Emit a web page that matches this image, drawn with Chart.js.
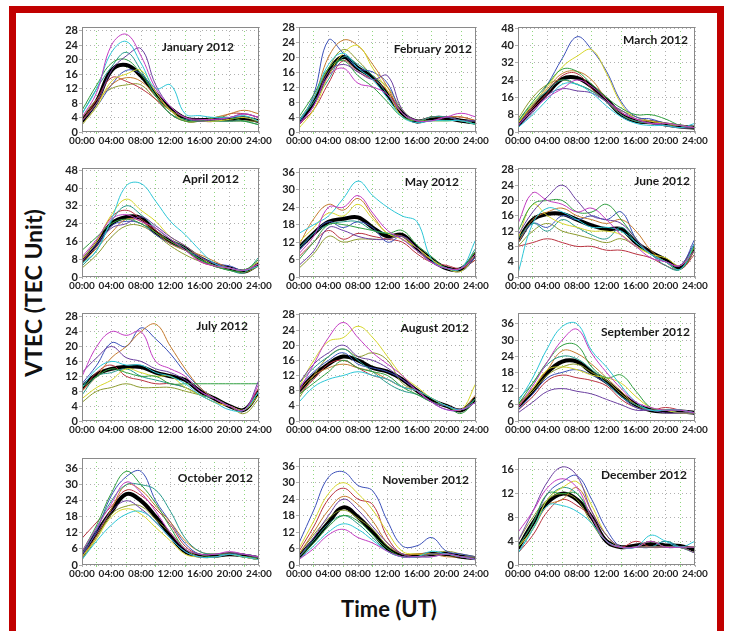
<!DOCTYPE html>
<html>
<head>
<meta charset="utf-8">
<script src="https://cdn.jsdelivr.net/npm/chart.js@4.4.1/dist/chart.umd.min.js"></script>
<style>
  html, body { margin: 0; padding: 0; background: #fff; }
  body { width: 731px; height: 631px; overflow: hidden; position: relative; font-family: Lato, "DejaVu Sans", sans-serif; }
  #frame { position: absolute; left: 9px; top: 6px; width: 701px; height: 700px; border: 7px solid #c10000; }
  canvas { position: absolute; }
  #ylab { position: absolute; left: 33px; top: 293px; transform: translate(-50%, -50%) rotate(-90deg); font: bold 23px Lato, sans-serif; color: #111; white-space: nowrap; }
  #xlab { position: absolute; left: 389px; top: 608px; transform: translate(-50%, -50%); font: bold 22px Lato, sans-serif; color: #111; white-space: nowrap; }
</style>
</head>
<body>
<div id="frame"></div>
<div id="ylab">VTEC (TEC Unit)</div>
<div id="xlab">Time (UT)</div>
<script>
// hours of the day (UT)
const hours = [0, 2, 4, 6, 8, 10, 12, 14, 16, 18, 20, 22, 24];

const months = ['January 2012', 'February 2012', 'March 2012', 'April 2012', 'May 2012', 'June 2012',
  'July 2012', 'August 2012', 'September 2012', 'October 2012', 'November 2012', 'December 2012'];

const yMax = [29, 28, 48.5, 49, 37.5, 28.5, 29, 28.5, 40, 40, 39, 18];
const yStep = [4, 4, 8, 8, 6, 4, 4, 4, 6, 6, 6, 4];

// monthly mean curves (thick black)
const janMean = [3, 8.5, 17, 18.5, 15.5, 10.5, 6.5, 3.8, 3.3, 3.5, 3.5, 3.8, 3];
const febMean = [2.5, 8, 16, 20, 17, 14.5, 10, 5, 2.8, 3.7, 3.7, 3, 2.5];
const marMean = [3, 11, 18, 24.5, 25, 21, 15, 8, 5, 4.5, 3.5, 2.5, 2];
const aprMean = [7, 15, 24, 27, 26.5, 20, 16, 13, 8.5, 5.5, 4, 2.5, 6];
const mayMean = [10, 15, 19, 20, 20.5, 17, 14, 14.5, 10, 6, 3, 2.8, 8];
const junMean = [9.5, 15, 16.5, 16.5, 15, 13.5, 12.5, 12.5, 9, 6.5, 4.5, 2.5, 8];
const julMean = [9, 12.5, 14, 14.5, 14.5, 13, 12, 11, 8, 6, 4, 3, 8];
const augMean = [8, 12, 15, 17, 16, 14, 13, 11, 8, 5.5, 4, 2.8, 6];
const sepMean = [5.5, 11, 18, 22, 22, 18, 14.5, 10, 6, 4, 3.5, 3.5, 3];
const octMean = [3.5, 12, 20, 26.5, 24, 18, 11, 5, 3.5, 3.5, 4, 3.5, 2.5];
const novMean = [3, 9, 15.5, 21, 17.5, 12, 6, 3.5, 3.5, 4, 4, 3, 2.5];
const decMean = [2.8, 7, 10.5, 12, 11, 8, 4, 3, 3.3, 3.5, 3.3, 3.2, 2.5];

// daily curves (thin coloured), same colour order in every month
const janDays = [
  [4, 11, 24, 27, 21, 12, 7, 4, 3.5, 3.5, 4, 5, 4],
  [5, 12, 22, 25, 19, 12, 13, 5, 4.5, 4, 4, 4.5, 3],
  [3, 8, 17, 21, 23, 13, 7, 4, 3, 3.5, 4, 5, 4],
  [6, 13, 19, 20, 16, 10, 5, 3, 3, 4, 4, 3, 2],
  [2, 7, 14, 16, 17, 11, 6, 3, 3, 3, 3.5, 4, 3],
  [5, 12, 18, 22, 17, 10, 5, 3.5, 3, 3, 3, 3, 2],
  [3, 8, 13, 15, 14, 10, 6, 3, 3, 4, 5, 6, 5],
  [2, 7, 13, 17, 16, 11, 6, 3, 3, 3, 4, 4, 3],
  [3, 9, 15, 14, 12, 9, 5, 3, 3, 3, 5, 5, 4],
  [4, 9, 12, 13, 13, 9, 6, 4, 3, 3, 3, 3, 3]
];
const febDays = [
  [2, 7, 15, 17, 13, 12, 10, 5, 3, 3, 4, 5, 4],
  [3, 9, 18, 21, 17, 14, 9, 4, 2.5, 3, 3, 3, 2],
  [2, 7, 16, 18, 16, 14, 15, 6, 3, 3, 4, 3, 3],
  [4, 10, 17, 19, 15, 12, 8, 4, 3, 3, 3, 3, 2],
  [1, 6, 15, 21, 23, 17, 11, 4, 3, 3, 3, 3, 2],
  [3, 8, 14, 20, 18, 15, 10, 5, 3, 4, 4, 3, 2],
  [3, 9, 20, 24.5, 23, 18, 12, 5, 3, 4, 4, 4, 3],
  [2, 10, 24.5, 21, 17, 16, 13, 5, 3, 4, 4, 3, 3],
  [2, 6, 13, 19, 16, 14, 11, 5, 3, 4, 4, 4, 3],
  [3, 9, 17, 22, 19, 15, 12, 6, 3, 4, 4, 3, 3]
];
const marDays = [
  [3, 10, 16, 20, 24, 21, 15, 9, 6, 4, 4, 3, 2],
  [2, 8, 15, 22, 22, 18, 12, 7, 4, 3, 3, 2, 4],
  [2, 9, 17, 20, 19, 18, 14, 10, 6, 4, 3, 2, 2],
  [5, 14, 22, 29, 28, 22, 16, 11, 8, 8, 6, 3, 2],
  [4, 13, 21, 30, 35, 38, 27, 13, 6, 5, 4, 3, 2],
  [5, 13, 19, 24, 22, 19, 14, 8, 5, 4, 3, 2, 2],
  [4, 12, 20, 27, 28, 24, 15, 8, 5, 4, 3, 2, 2],
  [3, 12, 22, 34, 44, 38, 28, 14, 7, 6, 4, 3, 2],
  [3, 11, 18, 26, 27, 20, 14, 9, 6, 5, 4, 3, 2],
  [6, 16, 22, 24, 22, 19, 14, 10, 7, 5, 3, 3, 2]
];
const aprDays = [
  [9, 17, 26, 28, 25, 22, 17, 12, 7, 5, 4, 3, 6],
  [6, 12, 26, 41, 42, 34, 25, 19, 12, 6, 4, 3, 5],
  [7, 14, 22, 24, 27, 23, 18, 14, 9, 6, 4, 3, 6],
  [12, 18, 24, 26, 24, 20, 16, 12, 8, 5, 3, 3, 8],
  [8, 16, 28, 35, 30, 25, 18, 14, 9, 5, 4, 3, 7],
  [5, 12, 25, 32, 28, 22, 17, 13, 8, 5, 3, 2, 9],
  [6, 13, 20, 26, 25, 20, 15, 12, 10, 7, 4, 3, 5],
  [8, 15, 23, 25, 24, 19, 15, 12, 9, 6, 5, 3, 7],
  [7, 16, 27, 30, 26, 21, 16, 13, 7, 5, 4, 3, 6],
  [4, 10, 18, 23, 23, 19, 14, 10, 7, 5, 3, 2, 5]
];
const mayDays = [
  [8, 14, 24, 24, 28, 22, 16, 13, 9, 5, 3, 3, 8],
  [15, 18, 21, 27, 33, 28, 24, 21, 19, 6, 3, 3, 13],
  [4, 9, 17, 16, 14, 13, 13, 14, 10, 5, 3, 3, 7],
  [6, 12, 18, 18, 17, 16, 15, 16, 11, 7, 3, 3, 9],
  [12, 17, 22, 21, 25, 20, 15, 13, 10, 6, 3, 2, 8],
  [10, 15, 18, 19, 19, 16, 15, 13, 9, 5, 3, 3, 10],
  [11, 20, 25, 23, 27, 21, 15, 14, 10, 6, 3, 3, 9],
  [9, 15, 19, 17, 19, 17, 12, 14, 10, 6, 3, 2, 7],
  [7, 12, 16, 13, 15, 14, 13, 12, 8, 5, 4, 3, 6],
  [3, 8, 14, 12, 13, 13, 13, 14, 9, 6, 3, 3, 6]
];
const junDays = [
  [14, 22, 20, 19, 17, 18, 15, 11, 8, 5, 4, 3, 7],
  [1, 14, 18, 17, 15, 13, 13, 12, 9, 6, 4, 2, 9],
  [11, 17, 21, 24, 20, 16, 15, 14, 10, 6, 4, 3, 9],
  [12, 19, 20, 20, 17, 17, 19, 15, 10, 6, 4, 2, 8],
  [10, 19, 16, 14, 13, 12, 12, 11, 8, 6, 5, 3, 8],
  [10, 14, 12, 15, 13, 11, 10, 13, 9, 6, 3, 2, 9],
  [9, 15, 17, 18, 16, 15, 14, 15, 12, 7, 4, 3, 8],
  [9, 14, 13, 16, 15, 16, 15, 17, 10, 6, 4, 3, 10],
  [8, 9, 10, 9, 8, 8, 7, 7, 6, 5, 3, 2, 6],
  [8, 12, 14, 12, 11, 10, 9, 10, 8, 6, 4, 2, 7]
];
const julDays = [
  [12, 20, 24, 23, 24, 16, 14, 12, 8, 6, 4, 3, 10],
  [9, 14, 16, 15, 15, 13, 12, 10, 7, 5, 3, 3, 8],
  [13, 17, 20, 17, 16, 14, 13, 11, 8, 6, 4, 3, 11],
  [9, 12, 14, 13, 12, 12, 10, 10, 10, 10, 10, 10, 10],
  [6, 9, 11, 14, 13, 12, 12, 9, 7, 5, 4, 3, 7],
  [7, 12, 13, 14, 12, 11, 10, 9, 7, 6, 4, 3, 8],
  [8, 12, 17, 20, 24, 26, 20, 14, 9, 6, 4, 3, 8],
  [10, 15, 21, 20, 25, 22, 18, 13, 9, 6, 4, 3, 8],
  [8, 13, 15, 12, 11, 10, 10, 9, 7, 5, 4, 3, 9],
  [5, 8, 9, 10, 9, 9, 9, 8, 7, 6, 4, 2, 6]
];
const augDays = [
  [8, 15, 22, 26, 22, 18, 15, 12, 8, 5, 3, 3, 5],
  [5, 9, 11, 12, 13, 12, 11, 9, 8, 6, 4, 3, 5],
  [10, 15, 18, 20, 17, 16, 14, 11, 8, 5, 4, 3, 5],
  [7, 10, 13, 16, 14, 13, 12, 9, 7, 5, 4, 2, 6],
  [9, 16, 21, 22, 25, 22, 17, 12, 9, 6, 4, 3, 10],
  [10, 14, 17, 19, 16, 13, 10, 8, 7, 5, 4, 3, 6],
  [8, 12, 14, 15, 14, 13, 11, 9, 8, 6, 4, 3, 7],
  [9, 13, 16, 18, 15, 14, 13, 11, 8, 5, 3, 3, 6],
  [7, 11, 15, 16, 14, 12, 11, 9, 8, 5, 4, 3, 5],
  [6, 12, 17, 19, 17, 18, 16, 10, 8, 5, 4, 3, 6]
];
const sepDays = [
  [5, 13, 22, 30, 34, 25, 18, 12, 7, 5, 4, 4, 3],
  [7, 16, 27, 35, 36, 26, 20, 13, 7, 4, 4, 4, 3],
  [3, 7, 11, 12, 11, 10, 8, 6, 4, 4, 3, 3, 3],
  [6, 14, 22, 28, 28, 20, 16, 17, 11, 5, 4, 4, 3],
  [6, 12, 19, 20, 19, 17, 16, 14, 9, 5, 4, 3, 3],
  [8, 14, 21, 24, 23, 19, 14, 9, 6, 4, 4, 3, 3],
  [5, 12, 19, 26, 25, 21, 16, 11, 6, 4, 4, 3, 3],
  [4, 10, 16, 18, 19, 17, 14, 9, 5, 4, 4, 4, 3],
  [4, 9, 15, 17, 16, 15, 13, 8, 5, 4, 5, 4, 3],
  [6, 11, 17, 20, 21, 18, 15, 10, 6, 4, 4, 4, 3]
];
const octDays = [
  [5, 14, 23, 31, 27, 20, 12, 6, 4, 4, 5, 4, 3],
  [2, 9, 15, 19, 20, 16, 10, 5, 3, 3, 4, 3, 2],
  [4, 12, 20, 24, 21, 16, 10, 5, 3, 3, 4, 4, 3],
  [5, 15, 27, 35, 30, 23, 14, 6, 4, 3, 4, 4, 3],
  [3, 10, 18, 21, 19, 14, 9, 4, 3, 3, 4, 3, 2],
  [4, 14, 24, 30, 30, 28, 20, 10, 5, 4, 4, 3, 3],
  [3, 11, 21, 30, 28, 22, 16, 9, 5, 4, 4, 3, 2],
  [3, 13, 26, 33, 35, 24, 16, 8, 4, 4, 4, 4, 3],
  [10, 16, 22, 28, 26, 21, 15, 7, 4, 4, 4, 3, 2],
  [2, 10, 19, 22, 22, 17, 12, 6, 3, 3, 4, 3, 3]
];
const novDays = [
  [2, 6, 11, 13, 10, 8, 5, 3, 3, 3, 4, 3, 2],
  [2, 7, 12, 15, 13, 9, 5, 3, 3, 5, 4, 3, 2],
  [3, 10, 18, 24, 20, 14, 8, 4, 3, 4, 4, 3, 3],
  [3, 8, 14, 18, 16, 11, 6, 3, 3, 4, 4, 3, 3],
  [6, 16, 26, 30, 26, 20, 12, 5, 4, 4, 4, 3, 3],
  [3, 9, 15, 18, 15, 10, 5, 3, 3, 3, 4, 3, 2],
  [4, 12, 20, 25, 22, 16, 8, 4, 4, 4, 3, 3, 3],
  [8, 20, 32, 34, 29, 27, 16, 7, 7, 10, 5, 4, 3],
  [5, 14, 24, 28, 24, 22, 10, 4, 4, 4, 4, 3, 3],
  [4, 11, 17, 20, 17, 13, 7, 4, 3, 4, 5, 4, 3]
];
const decDays = [
  [5.5, 9, 13, 14.5, 13, 8, 4, 3, 3, 4, 3, 3, 3],
  [2, 6, 10, 10, 9, 7, 4, 3, 3, 5, 4, 3, 4],
  [4, 9, 14, 16.5, 15, 9, 5, 3, 3, 3, 3, 3, 2],
  [3, 7, 12, 12, 12, 8, 4, 3, 3, 4, 3, 3, 3],
  [3, 6, 11, 13, 14, 10, 5, 3, 3, 3, 3, 3, 2],
  [2, 6, 11, 13, 12, 8, 4, 3, 3, 3, 4, 3, 2],
  [3, 6, 10, 11, 13, 9, 5, 3, 3, 3, 3, 3, 3],
  [3, 7, 12, 14, 15, 11, 6, 3, 3, 3, 4, 3, 3],
  [2, 5, 9, 11, 10, 8, 4, 3, 4, 3, 3, 3, 3],
  [4, 8, 11, 12, 11, 7, 4, 3, 3, 4, 3, 3, 2]
];

const allMeans = [janMean, febMean, marMean, aprMean, mayMean, junMean, julMean, augMean, sepMean, octMean, novMean, decMean];
const allDays = [janDays, febDays, marDays, aprDays, mayDays, junDays, julDays, augDays, sepDays, octDays, novDays, decDays];

const dayColors = ['#c23bc2', '#2cc6d6', '#6b3fa0', '#2e9e3e', '#d6d62a', '#25998a', '#c47a2c', '#3a4fb8', '#b8323f', '#8c9a2e'];

// layout of the 12 plot boxes
const colLeft = [82, 299, 518];
const boxW = 177;
const rowTop = [27, 168, 313, 458];
const rowH = [105, 109, 108, 107];
const titleRight = [25, 4, 7, 20, 17, 5, 11, 7, 5, 6, 7, 8];
const titleDown = [20, 22, 13, 11, 14, 13, 13, 15, 19, 20, 22, 17];

const Y_W = 24, X_H = 17, PAD_T = 8, PAD_R = 16;
const xTickFont = { family: 'Lato', size: 10, weight: 'bold' };
const yTickFont = { family: 'Lato', size: 11, weight: 'bold' };

const boxPlugin = {
  id: 'panelBox',
  afterDatasetsDraw(chart, args, opts) {
    const a = chart.chartArea;
    const ctx = chart.ctx;
    ctx.save();
    ctx.font = 'bold 12px Lato';
    ctx.fillStyle = '#1a1a1a';
    ctx.textAlign = 'right';
    ctx.textBaseline = 'middle';
    ctx.fillText(opts.text, a.right - opts.dr, a.top + opts.dy);
    ctx.strokeStyle = '#8a8a8a';
    ctx.lineWidth = 1;
    ctx.strokeRect(a.left + 0.5, a.top + 0.5, a.right - a.left - 1, a.bottom - a.top - 1);
    ctx.restore();
  }
};

function pad2(v) {
  return (v < 10 ? '0' : '') + v + ':00';
}

function makePanel(i) {
  const col = i % 3;
  const row = Math.floor(i / 3);
  const h = rowH[row];
  const cv = document.createElement('canvas');
  cv.width = Y_W + boxW + PAD_R;
  cv.height = PAD_T + h + X_H;
  cv.style.left = (colLeft[col] - Y_W) + 'px';
  cv.style.top = (rowTop[row] - PAD_T) + 'px';
  document.body.appendChild(cv);

  const datasets = allDays[i].map((d, k) => ({
    data: d.map((v, j) => ({ x: hours[j], y: v })),
    borderColor: dayColors[k],
    borderWidth: 1,
    pointRadius: 0,
    tension: 0.4
  }));
  datasets.push({
    data: allMeans[i].map((v, j) => ({ x: hours[j], y: v })),
    borderColor: '#000',
    borderWidth: 4,
    pointRadius: 0,
    tension: 0.4
  });

  new Chart(cv, {
    type: 'line',
    data: { datasets: datasets },
    options: {
      responsive: false,
      animation: false,
      layout: { padding: { top: PAD_T, right: PAD_R, left: 0, bottom: 0 } },
      plugins: {
        legend: { display: false },
        tooltip: { enabled: false },
        panelBox: { text: months[i], dr: titleRight[i], dy: titleDown[i] }
      },
      scales: {
        x: {
          type: 'linear',
          min: 0,
          max: 24,
          ticks: {
            stepSize: 2,
            autoSkip: false,
            maxRotation: 0,
            padding: 1,
            color: '#222',
            font: xTickFont,
            callback: v => (v % 4 === 0 ? pad2(v) : '')
          },
          grid: {
            color: c => (c.tick && c.tick.value % 4 === 2 ? '#8fd67e' : '#b0b0b0'),
            tickLength: 2
          },
          border: { display: false, dash: [1, 3] },
          afterFit: s => { s.height = X_H; s.paddingLeft = 0; s.paddingRight = 0; }
        },
        y: {
          min: 0,
          max: yMax[i],
          ticks: {
            stepSize: yStep[i],
            includeBounds: false,
            autoSkip: false,
            padding: 1,
            color: '#222',
            font: yTickFont
          },
          grid: { color: '#b0b0b0', tickLength: 3 },
          border: { display: false, dash: [1, 3] },
          afterFit: s => { s.width = Y_W; s.paddingTop = 0; s.paddingBottom = 0; }
        }
      }
    },
    plugins: [boxPlugin]
  });
}

Promise.all([
  document.fonts.load('bold 11px Lato'),
  document.fonts.load('bold 22px Lato')
]).catch(() => {}).then(() => {
  for (let i = 0; i < 12; i++) makePanel(i);
});
</script>
</body>
</html>
